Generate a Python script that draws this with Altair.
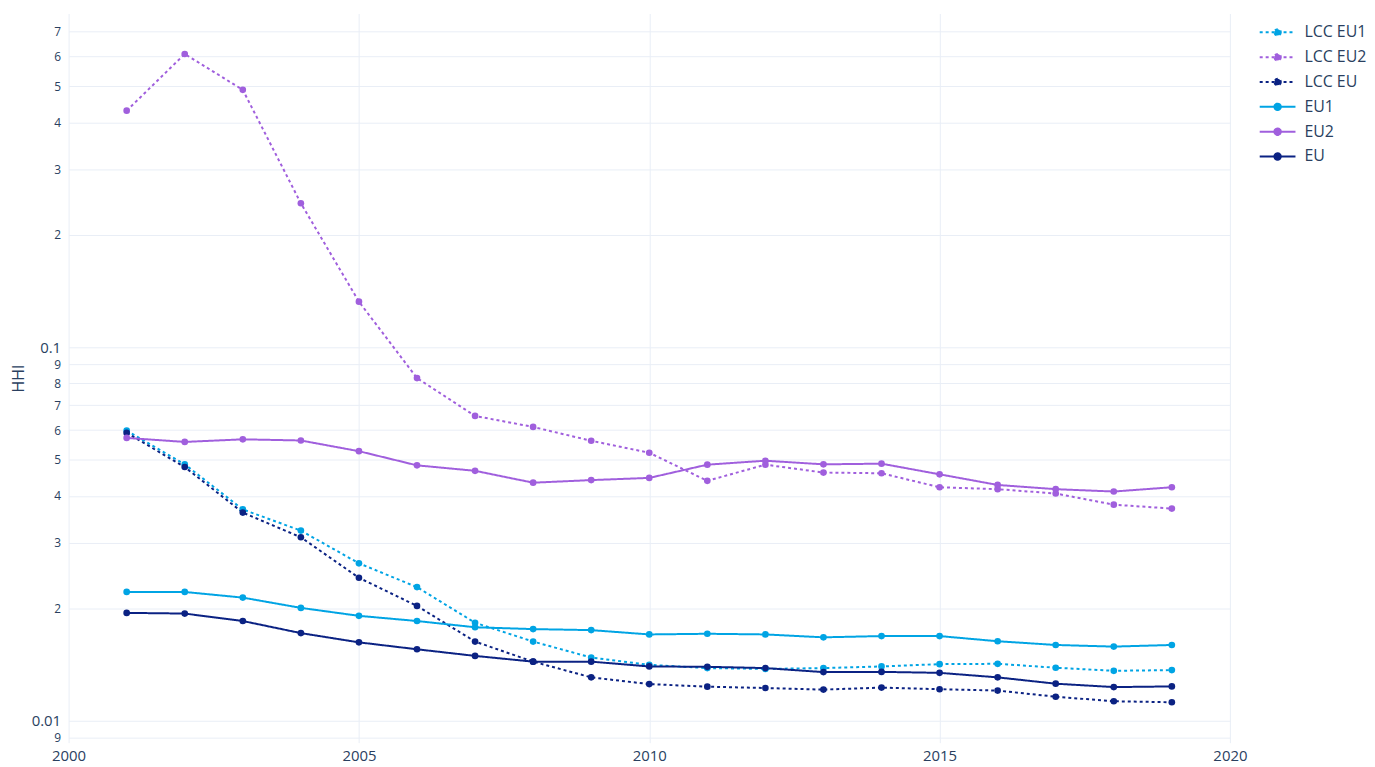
import altair as alt
import pandas as pd

years = list(range(2001, 2020))
series_names = ["LCC EU1", "LCC EU2", "LCC EU", "EU1", "EU2", "EU"]

lcc_eu1 = [0.0598, 0.0486, 0.0368, 0.0323, 0.0264, 0.0228, 0.0183, 0.0163, 0.01477, 0.01412,
           0.01384, 0.01377, 0.01384, 0.01398, 0.01418, 0.01421, 0.01387, 0.01361, 0.01367]
lcc_eu2 = [0.430, 0.610, 0.489, 0.243, 0.1325, 0.0827, 0.0655, 0.0612, 0.0562, 0.0522,
           0.0439, 0.0485, 0.0462, 0.0460, 0.0422, 0.0417, 0.0406, 0.0379, 0.0370]
lcc_eu = [0.0590, 0.0478, 0.0361, 0.0310, 0.02415, 0.0203, 0.0163, 0.0144, 0.01307, 0.01254,
          0.01234, 0.01224, 0.01212, 0.01227, 0.01215, 0.01205, 0.0116, 0.01128, 0.01121]
eu1 = [0.02213, 0.02213, 0.02137, 0.02006, 0.0191, 0.0185, 0.0178, 0.0176, 0.01749, 0.01703,
       0.0171, 0.01703, 0.01673, 0.01686, 0.01686, 0.01633, 0.01596, 0.0158, 0.01596]
eu2 = [0.0572, 0.0558, 0.0567, 0.0563, 0.0527, 0.0483, 0.0467, 0.0434, 0.0441, 0.0447,
       0.0485, 0.0497, 0.0486, 0.0488, 0.0457, 0.0428, 0.0417, 0.0411, 0.0422]
eu = [0.01945, 0.01937, 0.0185, 0.01717, 0.01622, 0.01554, 0.01492, 0.0144, 0.0144, 0.01398,
      0.01395, 0.01384, 0.0135, 0.01352, 0.01344, 0.01307, 0.01257, 0.01231, 0.01236]

series_values = [lcc_eu1, lcc_eu2, lcc_eu, eu1, eu2, eu]

colors = ["#00a4e4", "#a05fdd", "#0b2283", "#00a4e4", "#a05fdd", "#0b2283"]
dashes = [[3, 3], [3, 3], [3, 3], [1, 0], [1, 0], [1, 0]]

x_ticks = [2000, 2005, 2010, 2015, 2020]
y_ticks = [0.009, 0.01, 0.02, 0.03, 0.04, 0.05, 0.06, 0.07, 0.08, 0.09,
           0.1, 0.2, 0.3, 0.4, 0.5, 0.6, 0.7]

rows = []
for name, vals in zip(series_names, series_values):
    for yr, v in zip(years, vals):
        rows.append({"year": yr, "HHI": v, "series": name})
df = pd.DataFrame(rows)

FONT = "Open Sans"
TXT = "#2a3f5f"
GRID = "#e9eef6"

is_decade = "abs(log(datum.value)/LN10 - round(log(datum.value)/LN10)) < 0.001"
label_expr = (
    f"({is_decade}) ? format(datum.value, '.2~f') : "
    "'' + round(datum.value / pow(10, floor(log(datum.value)/LN10 + 0.0001)))"
)

legend_symbol = "M-2,0H2M0.36,0A0.36,0.36,0,1,1,-0.36,0A0.36,0.36,0,1,1,0.36,0Z"

legend = alt.Legend(
    title=" ",
    titleFontSize=6,
    titlePadding=3,
    orient="right",
    offset=38,
    padding=0,
    symbolType=legend_symbol,
    symbolSize=324,
    symbolStrokeWidth=2,
    symbolOpacity=1,
    labelFont=FONT,
    labelFontSize=16,
    labelColor=TXT,
    labelOffset=17,
    rowPadding=7,
)

scale_color = alt.Scale(domain=series_names, range=colors)
stroke_enc = alt.Stroke("series:N", scale=scale_color, legend=legend)
fill_enc = alt.Fill("series:N", scale=scale_color, legend=legend)
dash_enc = alt.StrokeDash("series:N",
                          scale=alt.Scale(domain=series_names, range=dashes),
                          legend=legend)

x_enc = alt.X("year:Q",
              scale=alt.Scale(domain=[2000, 2020], nice=False, zero=False),
              axis=alt.Axis(values=x_ticks, format="d", title=None, ticks=False,
                            domain=False, labelFontSize=15, labelFont=FONT,
                            labelColor=TXT, labelPadding=6, labelFlush=False,
                            gridColor=GRID, gridWidth=1))
y_enc = alt.Y("HHI:Q",
              scale=alt.Scale(type="log", domain=[0.00874, 0.783], nice=False),
              axis=alt.Axis(values=y_ticks, title="HHI", ticks=False, domain=False,
                            labelExpr=label_expr,
                            labelFontSize={"condition": {"test": is_decade, "value": 15},
                                           "value": 12},
                            labelFont=FONT, labelColor=TXT, labelPadding=8,
                            labelFlush=False, labelOverlap=False,
                            titleFont=FONT, titleFontSize=16, titleColor=TXT,
                            titleFontWeight="normal", titlePadding=5,
                            gridColor=GRID, gridWidth=1))

base = alt.Chart(df)
lines = base.mark_line(strokeWidth=2, strokeCap="butt").encode(
    x=x_enc, y=y_enc, stroke=stroke_enc, strokeDash=dash_enc, detail="series:N"
)
points = base.mark_point(filled=True, size=45, opacity=1).encode(
    x=x_enc, y=y_enc, fill=fill_enc
)

chart = alt.layer(lines, points).properties(
    width=1169,
    height=734,
    padding={"left": 2, "top": 3, "right": 0, "bottom": 0},
    background="white",
).configure_view(stroke=None)

chart.save("out.html", embed_options={"renderer": "svg", "actions": False})
